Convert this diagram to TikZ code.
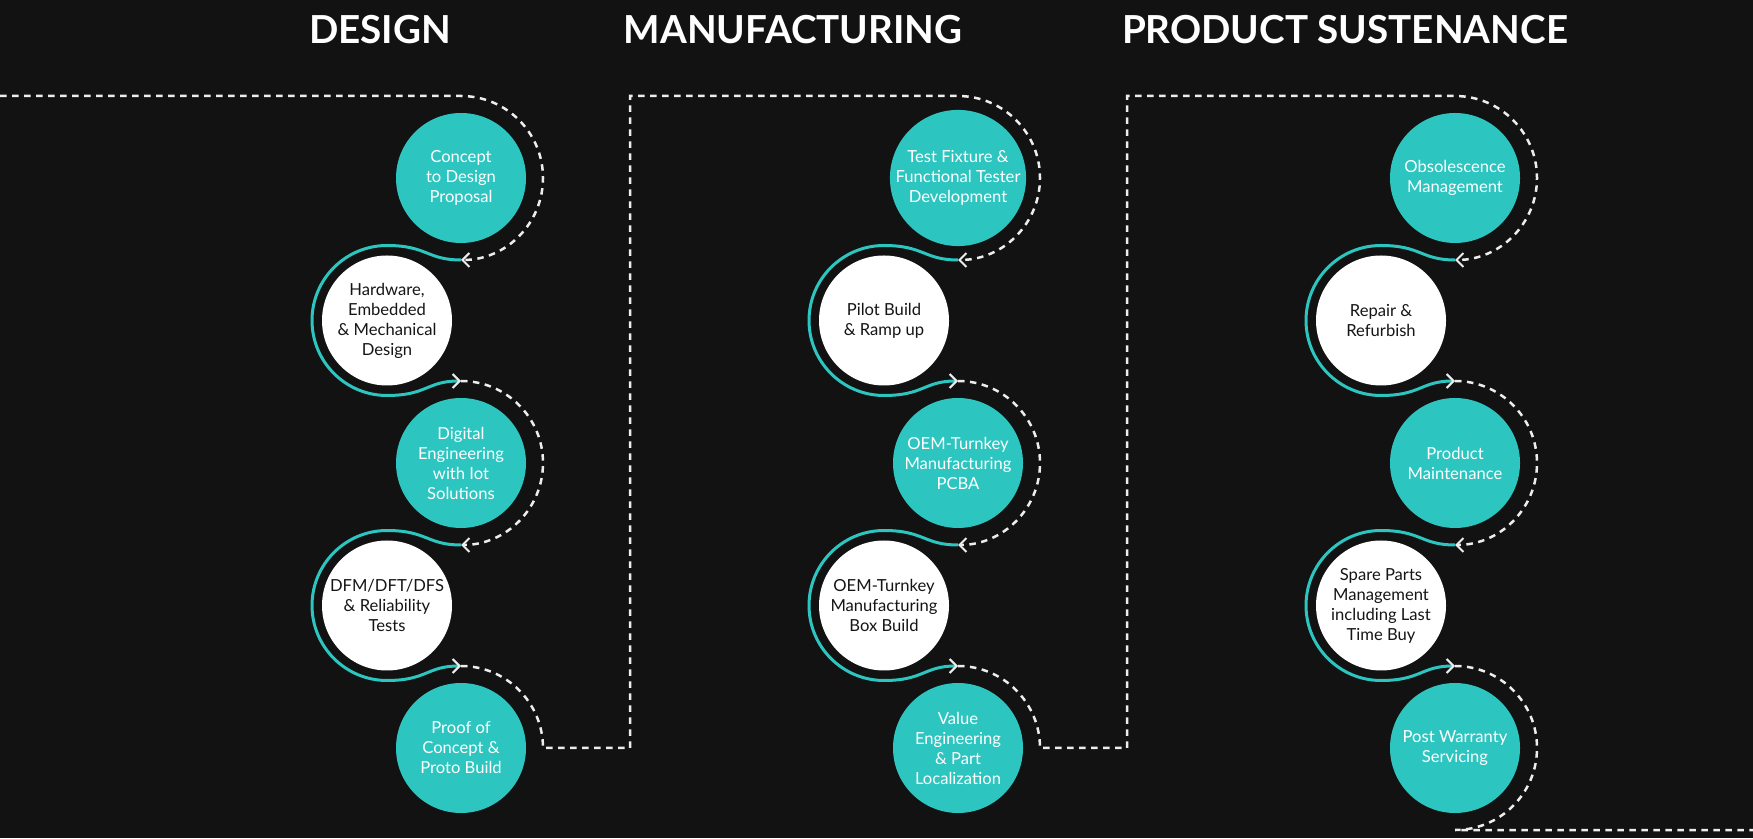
\documentclass[tikz,border=0pt]{standalone}
\usepackage{fontspec}
\setmainfont{Lato}
\usetikzlibrary{arrows.meta,calc}
\definecolor{bgdark}{HTML}{121212}
\definecolor{tealc}{HTML}{2CC5C0}
\definecolor{inkdark}{HTML}{151515}
\definecolor{dashc}{HTML}{EDEDED}

\begin{document}
\begin{tikzpicture}[x=1pt, y=1pt, stage/.style={circle, minimum size=130pt, inner sep=0pt, align=center, font=\fontsize{16.6}{20}\selectfont}, stagefill/.style={stage, fill=tealc, text=white}, stageopen/.style={stage, fill=white, text=inkdark}, heading/.style={text=white, font=\fontsize{38.6}{42}\selectfont\bfseries}, dashline/.style={draw=dashc, line width=2.5pt, dash pattern=on 6.5pt off 5.5pt}, ring/.style={draw=tealc, line width=3pt}, tipin/.style={-{Straight Barb[length=7pt, width=14pt, line width=2pt, color=dashc]}}
]
  \fill[bgdark] (0,0) rectangle (1753,838);
  \useasboundingbox (0,0) rectangle (1753,838);

  \node[heading] (hdes) at (380,808) {DESIGN};
  \node[heading] (hman) at (793,808) {MANUFACTURING};
  \node[heading] (hsus) at (1345,808) {PRODUCT SUSTENANCE};

  % design
  \node[stagefill] (d1) at (461,660) {Concept\\to Design\\Proposal};
  \node[stageopen] (d2) at (387,517.5) {Hardware,\\Embedded\\\& Mechanical\\Design};
  \node[stagefill] (d3) at (461,375) {Digital\\Engineering\\with Iot\\Solutions};
  \node[stageopen] (d4) at (387,232.5) {DFM/DFT/DFS\\\& Reliability\\Tests};
  \node[stagefill] (d5) at (461,90) {Proof of\\Concept \&\\Proto Build};

  % manufacturing
  \node[stagefill] (m1) at (958,660) {Test Fixture \&\\Functional Tester\\Development};
  \node[stageopen] (m2) at (884,517.5) {Pilot Build\\\& Ramp up};
  \node[stagefill] (m3) at (958,375) {OEM-Turnkey\\Manufacturing\\PCBA};
  \node[stageopen] (m4) at (884,232.5) {OEM-Turnkey\\Manufacturing\\Box Build};
  \node[stagefill] (m5) at (958,90) {Value\\Engineering\\\& Part\\Localization};

  % product sustenance
  \node[stagefill] (s1) at (1455,660) {Obsolescence\\Management};
  \node[stageopen] (s2) at (1381,517.5) {Repair \&\\Refurbish};
  \node[stagefill] (s3) at (1455,375) {Product\\Maintenance};
  \node[stageopen] (s4) at (1381,232.5) {Spare Parts\\Management\\including Last\\Time Buy};
  \node[stagefill] (s5) at (1455,90) {Post Warranty\\Servicing};

  \coordinate (entry) at (0,742);
  \coordinate (exit) at (1753,8);
  \coordinate (jog1a) at (630,90);
  \coordinate (jog1b) at (630,742);
  \coordinate (jog2a) at (1127,90);
  \coordinate (jog2b) at (1127,742);

  % dashed loops
  \draw[dashline, tipin] (entry) -- ($(d1.center)+(0,82)$) arc[start angle=90, end angle=-90, radius=82];
  \draw[dashline, tipin] ($(d3.center)+(0,82)$) arc[start angle=90, end angle=-90, radius=82];
  \draw[dashline, tipin] ($(d5.center)+(0,82)$) arc[start angle=90, end angle=0, radius=82] -- (jog1a) -- (jog1b) -- ($(m1.center)+(0,82)$) arc[start angle=90, end angle=-90, radius=82];
  \draw[dashline, tipin] ($(m3.center)+(0,82)$) arc[start angle=90, end angle=-90, radius=82];
  \draw[dashline, tipin] ($(m5.center)+(0,82)$) arc[start angle=90, end angle=0, radius=82] -- (jog2a) -- (jog2b) -- ($(s1.center)+(0,82)$) arc[start angle=90, end angle=-90, radius=82];
  \draw[dashline, tipin] ($(s3.center)+(0,82)$) arc[start angle=90, end angle=-90, radius=82];
  \draw[dashline] ($(s5.center)+(0,82)$) arc[start angle=90, end angle=-90, radius=82] -- (exit);

  % teal rings
  \draw[ring, tipin] ($(d1.center)+(0,-82)$) .. controls +(-34,0) and +(40,0) .. ($(d2.center)+(0,75)$) arc[start angle=90, end angle=270, radius=75] .. controls +(40,0) and +(-34,0) .. ($(d3.center)+(0,82)$);
  \draw[ring, tipin] ($(d3.center)+(0,-82)$) .. controls +(-34,0) and +(40,0) .. ($(d4.center)+(0,75)$) arc[start angle=90, end angle=270, radius=75] .. controls +(40,0) and +(-34,0) .. ($(d5.center)+(0,82)$);
  \draw[ring, tipin] ($(m1.center)+(0,-82)$) .. controls +(-34,0) and +(40,0) .. ($(m2.center)+(0,75)$) arc[start angle=90, end angle=270, radius=75] .. controls +(40,0) and +(-34,0) .. ($(m3.center)+(0,82)$);
  \draw[ring, tipin] ($(m3.center)+(0,-82)$) .. controls +(-34,0) and +(40,0) .. ($(m4.center)+(0,75)$) arc[start angle=90, end angle=270, radius=75] .. controls +(40,0) and +(-34,0) .. ($(m5.center)+(0,82)$);
  \draw[ring, tipin] ($(s1.center)+(0,-82)$) .. controls +(-34,0) and +(40,0) .. ($(s2.center)+(0,75)$) arc[start angle=90, end angle=270, radius=75] .. controls +(40,0) and +(-34,0) .. ($(s3.center)+(0,82)$);
  \draw[ring, tipin] ($(s3.center)+(0,-82)$) .. controls +(-34,0) and +(40,0) .. ($(s4.center)+(0,75)$) arc[start angle=90, end angle=270, radius=75] .. controls +(40,0) and +(-34,0) .. ($(s5.center)+(0,82)$);
\end{tikzpicture}
\end{document}
